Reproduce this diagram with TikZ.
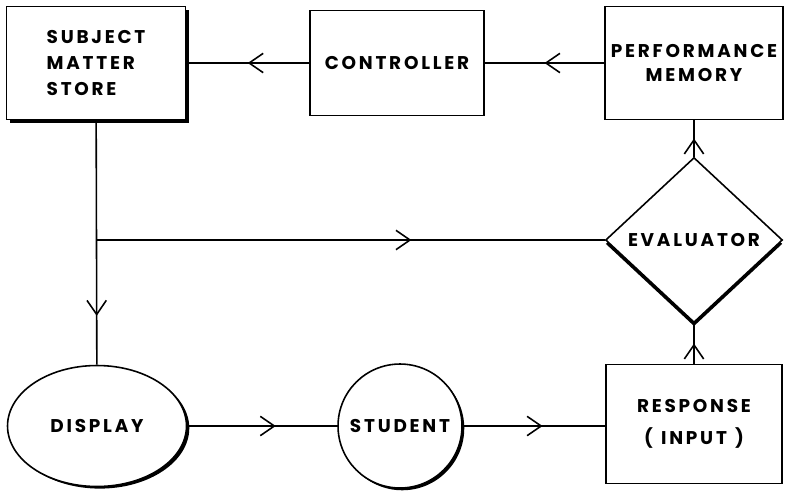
\documentclass[tikz,border=0pt]{standalone}
\usepackage{fontspec}
\newfontfamily\lblfont{Poppins}[LetterSpace=15]
\usetikzlibrary{shapes.geometric,shadows,decorations.markings,arrows.meta}
\newcommand\popis{\lblfont\bfseries\fontsize{10.5}{15}\selectfont}

\begin{document}
\begin{tikzpicture}[x=0.02cm,y=-0.02cm,line width=0.9pt,
  blok/.style={draw,fill=white,font=\popis,align=center},
  stin/.style 2 args={general shadow={fill=black,shadow xshift=#1,shadow yshift=-#2}},
  sipka/.style={postaction={decorate},decoration={markings,
      mark=at position #1 with {\arrow{Straight Barb[length=8pt,width=11pt]}}}},
  sipka/.default=0.5]
  \useasboundingbox (0,0) rectangle (787,490);

  % horni rada
  \node[blok,align=left,stin={1.8pt}{2pt},minimum width=3.58cm,minimum height=2.26cm]
    (store) at (96,63) {SUBJECT\\MATTER\\STORE};
  \node[blok,minimum width=3.48cm,minimum height=2.1cm] (ctrl) at (397,63) {CONTROLLER};
  \node[blok,minimum width=3.56cm,minimum height=2.26cm,font=\lblfont\bfseries\fontsize{10.5}{14}\selectfont]
    (perf) at (694,63) {PERFORMANCE\\MEMORY};

  % hodnotitel
  \node[blok,shape=diamond,stin={0pt}{2.2pt},inner sep=0pt,minimum width=3.54cm,minimum height=3.3cm]
    (eval) at (694,240) {EVALUATOR};

  % dolni rada
  \node[blok,shape=ellipse,stin={1.6pt}{1.2pt},inner sep=0pt,minimum width=3.58cm,minimum height=2.42cm]
    (disp) at (97,426) {DISPLAY};
  \node[blok,shape=circle,stin={1.3pt}{1.3pt},inner sep=0pt,minimum size=2.48cm]
    (stud) at (400,426) {STUDENT};
  \node[blok,minimum width=3.52cm,minimum height=2.38cm,font=\lblfont\bfseries\fontsize{10.5}{18}\selectfont]
    (resp) at (694,424) {RESPONSE\\(\;\,INPUT\;\,)};

  % spoje
  \draw[sipka] (ctrl) -- (store);
  \draw[sipka] (perf) -- (ctrl);
  \draw[sipka=0.8] (store) -- (disp);
  \coordinate (odb) at (store.south |- eval.west);
  \draw[sipka=0.62] (odb) -- (eval.west);
  \draw[sipka=0.59] (disp) -- (stud);
  \draw[sipka=0.56] (stud) -- (stud -| resp.west);
  \draw[sipka] (eval) -- (perf);
  \draw[sipka] (resp) -- (eval);
\end{tikzpicture}
\end{document}
